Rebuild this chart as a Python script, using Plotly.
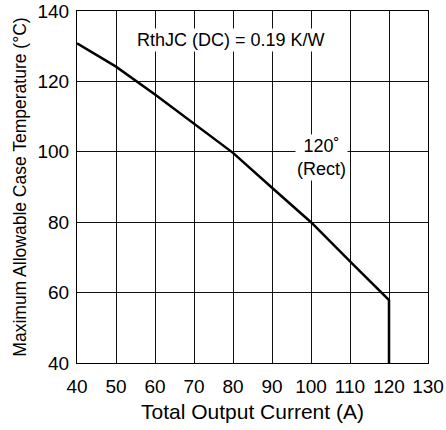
import plotly.graph_objects as go

current = [40, 50, 60, 70, 80, 90, 100, 110, 120, 120]
temperature = [130.8, 124.2, 116.3, 108.1, 99.7, 89.8, 80.0, 68.9, 57.9, 40]
x_ticks = [40, 50, 60, 70, 80, 90, 100, 110, 120, 130]
y_ticks = [40, 60, 80, 100, 120, 140]

fig = go.Figure()
fig.add_trace(go.Scatter(x=current, y=temperature, mode="lines",
                         line=dict(color="black", width=2.5), showlegend=False))

font = "Liberation Sans, Arial, sans-serif"
fig.add_annotation(x=79.5, y=131.8, text="RthJC (DC) = 0.19 K/W", showarrow=False,
                   font=dict(family=font, size=18, color="black"), bgcolor="white")
fig.add_annotation(x=102.8, y=98.5, text="120˚<br>(Rect)", showarrow=False,
                   font=dict(family=font, size=18, color="black"), bgcolor="white")

fig.update_layout(
    width=446, height=430,
    margin=dict(l=77, r=18, t=11, b=67),
    paper_bgcolor="white", plot_bgcolor="white",
    font=dict(family=font, color="black"),
)
fig.update_xaxes(range=[40, 130], tickvals=x_ticks, showgrid=True, gridcolor="#111",
                 gridwidth=1, showline=True, linecolor="black", linewidth=1, mirror=True,
                 ticks="", tickfont=dict(size=19), zeroline=False, automargin=False,
                 ticklabelstandoff=6,
                 title=dict(text="Total Output Current (A)", font=dict(size=21), standoff=8))
fig.update_yaxes(range=[40, 140], tickvals=y_ticks, showgrid=True, gridcolor="#111",
                 gridwidth=1, showline=True, linecolor="black", linewidth=1, mirror=True,
                 ticks="", tickfont=dict(size=19), zeroline=False, automargin=False,
                 ticklabelstandoff=3,
                 title=dict(text="Maximum Allowable Case Temperature (°C)", font=dict(size=17.5), standoff=6))

fig.write_html("out.html", config={"displayModeBar": False},
               post_script="document.body.style.margin='0px';")
